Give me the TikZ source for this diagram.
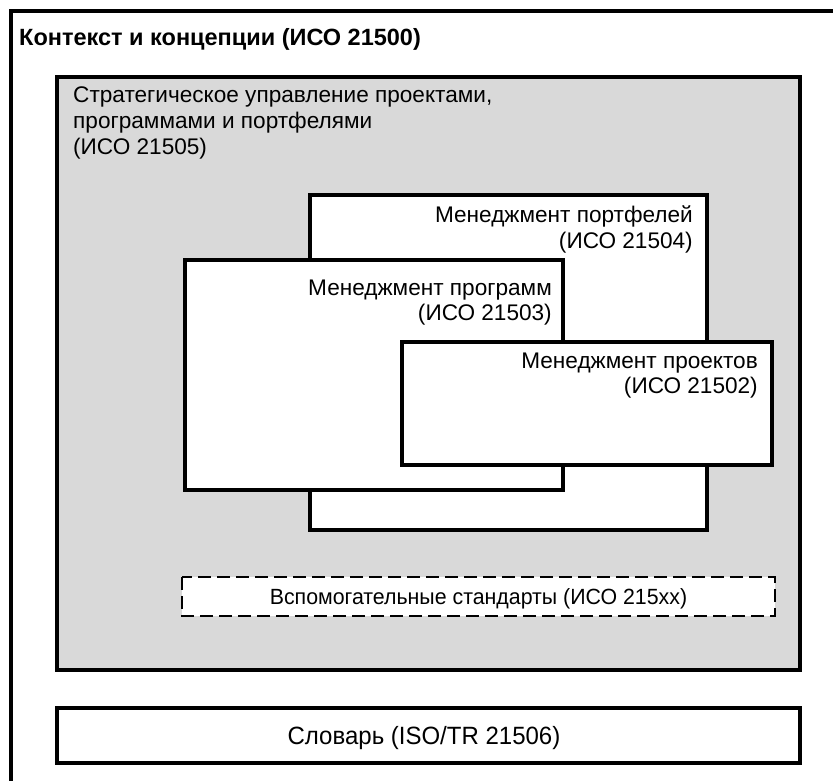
\documentclass[tikz,border=0pt]{standalone}
\usepackage{fontspec}
\setmainfont{Liberation Sans}
\definecolor{panelgray}{RGB}{217,217,217}
\tikzset{
  box/.style={draw=black, line width=3.2pt, fill=white},
  txt/.style={inner sep=0pt, font=\fontsize{22.6}{26}\selectfont},
  rlbl/.style={txt, anchor=base east},
  llbl/.style={txt, anchor=base west},
}
\begin{document}
\begin{tikzpicture}[x=1pt,y=-1pt]
\useasboundingbox (0,0) rectangle (833,780);
\clip (0,0) rectangle (833,780);
% outer frame (extends beyond the picture)
\draw[line width=3.2pt] (11,11) rectangle (860,820);
\node[anchor=base west, inner sep=0pt, font=\fontsize{23.5}{26}\selectfont\bfseries] (title) at (19,45) {Контекст и концепции (ИСО 21500)};
% governance panel
\draw[line width=3.2pt, fill=panelgray] (57,77) rectangle (800,670);
\node[llbl] (gov1) at (73,102) {Стратегическое управление проектами,};
\node[llbl] (gov2) at (73,128) {программами и портфелями};
\node[llbl] (gov3) at (73,154) {(ИСО 21505)};
% portfolio
\draw[box] (310,195) rectangle (707,530);
\node[rlbl] (port1) at (693,222) {Менеджмент портфелей};
\node[rlbl] (port2) at (693,248) {(ИСО 21504)};
% programme
\draw[box] (185,260) rectangle (563,490);
\node[rlbl] (prog1) at (552,295) {Менеджмент программ};
\node[rlbl] (prog2) at (552,320) {(ИСО 21503)};
% project
\draw[box] (402,342) rectangle (772,465);
\node[rlbl] (proj1) at (758,368) {Менеджмент проектов};
\node[rlbl] (proj2) at (758,393) {(ИСО 21502)};
% supporting standards
\draw[line width=2.2pt, dash pattern=on 13pt off 6pt, fill=white] (182,577) rectangle (775,616);
\node[inner sep=0pt, anchor=base, font=\fontsize{22}{24}\selectfont] (supp) at (478.5,604) {\scalebox{0.97}[1]{Вспомогательные стандарты (ИСО 215xx)}};
% vocabulary
\draw[box] (57,708) rectangle (800,763);
\node[inner sep=0pt, anchor=base, font=\fontsize{25}{28}\selectfont] (voc) at (424,744) {\scalebox{0.96}[1]{Словарь (ISO/TR 21506)}};
\end{tikzpicture}
\end{document}
